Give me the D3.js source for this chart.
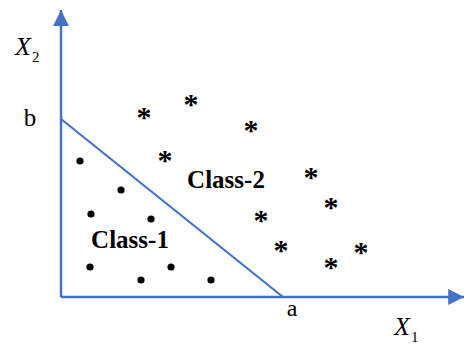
<!DOCTYPE html>
<html>
<head>
<meta charset="utf-8">
<script src="https://cdn.jsdelivr.net/npm/d3@7/dist/d3.min.js"></script>
<style>
  html, body { margin: 0; padding: 0; background: #fff; }
  svg { display: block; }
</style>
</head>
<body>
<svg id="chart" width="464" height="345"></svg>
<script>
// Decision boundary intercepts (feature-space units)
const interceptA = 5.55;   // on X1
const interceptB = 4.45;   // on X2

// Class-1 samples (below the boundary)
const class1X = [0.475, 1.5, 0.75, 2.25, 0.725, 2.0, 2.75, 3.75];
const class1Y = [3.4, 2.675, 2.075, 1.95, 0.75, 0.425, 0.75, 0.425];

// Class-2 samples (above the boundary)
const class2X = [2.075, 3.25, 4.75, 2.6, 6.25, 6.75, 5.0, 5.5, 6.75, 7.5];
const class2Y = [4.625, 4.95, 4.3, 3.55, 3.125, 2.375, 2.05, 1.3, 0.875, 1.25];

const regionLabels = ["Class-1", "Class-2"];
const regionLabelX = [1.725, 4.125];
const regionLabelY = [1.23, 2.73];

const blue = "#4472C4";
const serif = "'Liberation Serif', 'Times New Roman', Times, serif";
const svg = d3.select("#chart");

const x = d3.scaleLinear().domain([0, 10]).range([61, 461]);
const y = d3.scaleLinear().domain([0, 7]).range([297, 17]);

// Axes with arrowheads
svg.append("defs").append("marker")
  .attr("id", "arrow")
  .attr("viewBox", "0 0 10 10")
  .attr("refX", 10).attr("refY", 5)
  .attr("markerUnits", "userSpaceOnUse")
  .attr("markerWidth", 18).attr("markerHeight", 16)
  .attr("orient", "auto")
  .append("path").attr("d", "M0,0 L10,5 L0,10 Z").attr("fill", blue);

svg.append("line")
  .attr("x1", x(0)).attr("y1", y(0))
  .attr("x2", x(10.08)).attr("y2", y(0))
  .attr("stroke", blue).attr("stroke-width", 2.5)
  .attr("marker-end", "url(#arrow)");

svg.append("line")
  .attr("x1", x(0)).attr("y1", y(0))
  .attr("x2", x(0)).attr("y2", y(7.175))
  .attr("stroke", blue).attr("stroke-width", 2.5)
  .attr("marker-end", "url(#arrow)");

// Linear decision boundary
svg.append("line")
  .attr("x1", x(0)).attr("y1", y(interceptB))
  .attr("x2", x(interceptA)).attr("y2", y(0))
  .attr("stroke", blue).attr("stroke-width", 2.2);

// Class-1 points
svg.selectAll("circle.c1")
  .data(d3.zip(class1X, class1Y))
  .join("circle")
  .attr("class", "c1")
  .attr("cx", d => x(d[0])).attr("cy", d => y(d[1]))
  .attr("r", 3.6).attr("fill", "#000");

// Class-2 points
svg.selectAll("text.c2")
  .data(d3.zip(class2X, class2Y))
  .join("text")
  .attr("class", "c2")
  .attr("x", d => x(d[0])).attr("y", d => y(d[1]) + 15)
  .attr("text-anchor", "middle")
  .attr("font-family", serif)
  .attr("font-size", 30).attr("font-weight", "bold")
  .text("*");

// Region labels
svg.selectAll("text.region")
  .data(regionLabels)
  .join("text")
  .attr("class", "region")
  .attr("x", (d, i) => x(regionLabelX[i]))
  .attr("y", (d, i) => y(regionLabelY[i]))
  .attr("text-anchor", "middle")
  .attr("font-family", serif)
  .attr("font-size", 25).attr("font-weight", "bold")
  .text(d => d);

// Intercept labels
svg.append("text").attr("x", x(interceptA) + 9).attr("y", y(0) + 19)
  .attr("text-anchor", "middle").attr("font-family", serif).attr("font-size", 24).text("a");
svg.append("text").attr("x", 30).attr("y", y(interceptB) + 7)
  .attr("text-anchor", "middle").attr("font-family", serif).attr("font-size", 25).text("b");

// Axis titles
function axisTitle(px, py, sub) {
  const t = svg.append("text").attr("x", px).attr("y", py)
    .attr("font-family", serif).attr("font-size", 26);
  t.append("tspan").attr("font-style", "italic").text("X");
  t.append("tspan").attr("dx", 1).attr("dy", 7).attr("font-size", 15).text(sub);
}
axisTitle(15, 55, "2");
axisTitle(394, 335, "1");
</script>
</body>
</html>
